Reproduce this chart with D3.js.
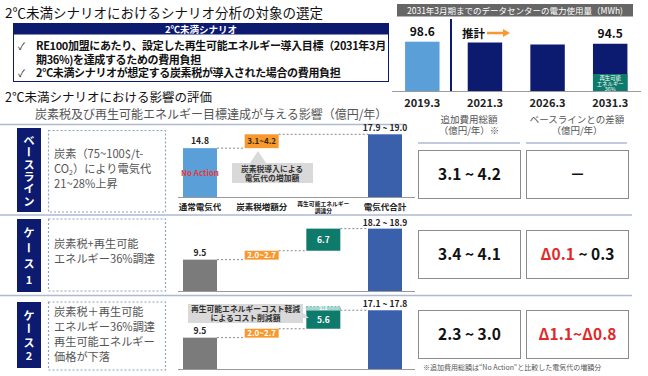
<!DOCTYPE html>
<meta charset="utf-8">
<script src="https://d3js.org/d3.v7.min.js"></script>
<style>
  body { margin: 0; background: #fff; }
  text { font-family: "Noto Sans CJK JP", "Noto Sans", sans-serif; }
</style>
<div id="chart"></div>
<script>
// --- data ---
var usageYears = ["2019.3", "2021.3", "2026.3", "2031.3"];
var usageValues = [98.6, 97.0, 93.0, 94.5];
var usageShown = [true, false, false, true];
var renewShare = 36;

var steps = ["通常電気代", "炭素税増額分", "再生可能エネルギー調達分", "電気代合計"];
var rowNames = ["ベースライン", "ケース1", "ケース2"];
var baseCost = [14.8, 9.5, 9.5];
var carbonLow = [3.1, 2.0, 2.0];
var carbonHigh = [4.2, 2.7, 2.7];
var renewCost = [null, 6.7, 5.6];
var renewCut = [null, null, 1.1];
var totalLow = [17.9, 18.2, 17.1];
var totalHigh = [19.0, 18.9, 17.8];
var addTotal = ["3.1 ~ 4.2", "3.4 ~ 4.1", "2.3 ~ 3.0"];
var diffBase = [null, ["Δ0.1", " ~ 0.3"], ["Δ1.1~Δ0.8", ""]];
var rowNotes = [
  [["炭素（75~100$/t-"], ["CO", "2", "）により電気代"], ["21~28%上昇"]],
  [["炭素税+再生可能"], ["エネルギー36%調達"]],
  [["炭素税＋再生可能"], ["エネルギー36%調達"], ["再生可能エネルギー"], ["価格が下落"]]
];

var W = 648, H = 376;
var navy = "#0c1a70", lightBlue = "#5b9fd8", orange = "#f7992f",
    teal = "#0e7a6b", totalBlue = "#3b60ab", grey = "#7b7b7b", rule = "#aeb9d2";
var f1 = d3.format(".1f");

var svg = d3.select("#chart").append("svg").attr("width", W).attr("height", H);

// --- top left: selection box ---
svg.append("text").attr("x", 5).attr("y", 18).attr("font-size", 13.5).attr("fill", "#111")
  .text("2℃未満シナリオにおけるシナリオ分析の対象の選定");
svg.append("rect").attr("x", 13.5).attr("y", 23.5).attr("width", 375).attr("height", 58)
  .attr("fill", "#fff").attr("stroke", navy);
svg.append("rect").attr("x", 13.5).attr("y", 23.5).attr("width", 375).attr("height", 11).attr("fill", navy);
svg.append("text").attr("x", 201).attr("y", 32.5).attr("text-anchor", "middle").attr("font-size", 9.5)
  .attr("font-weight", 700).attr("fill", "#fff").text("2℃未満シナリオ");
var bullets = [
  ["✓", "RE100加盟にあたり、設定した再生可能エネルギー導入目標（2031年3月"],
  ["", "期36%)を達成するための費用負担"],
  ["✓", "2℃未満シナリオが想定する炭素税が導入された場合の費用負担"]
];
bullets.forEach(function(b, i) {
  var yy = 50 + i * 13.5;
  svg.append("text").attr("x", 18).attr("y", yy).attr("font-size", 10).attr("fill", "#111").text(b[0]);
  svg.append("text").attr("x", 36).attr("y", yy).attr("font-size", 11).attr("font-weight", 700)
    .attr("fill", "#111").attr("letter-spacing", -0.35).text(b[1]);
});

// --- top right: power usage bars ---
var ux = d3.scaleBand().domain(usageYears).range([391, 641.5]).paddingInner(0.45).paddingOuter(0.225);
var uy = d3.scaleLinear().domain([0, 100]).range([91, 41]);

svg.append("rect").attr("x", 397).attr("y", 4).attr("width", 236).attr("height", 12.5).attr("fill", "#666");
svg.append("text").attr("x", 515).attr("y", 13.5).attr("text-anchor", "middle").attr("font-size", 8.5)
  .attr("fill", "#fff").text("2031年3月期までのデータセンターの電力使用量（MWh)");

svg.append("g").selectAll("rect").data(usageValues).join("rect")
  .attr("x", function(d, i) { return ux(usageYears[i]); })
  .attr("y", function(d) { return uy(d); })
  .attr("width", ux.bandwidth())
  .attr("height", function(d) { return uy(0) - uy(d); })
  .attr("fill", function(d, i) { return i === 0 ? lightBlue : navy; });

var last = usageYears.length - 1;
var greenTop = uy(usageValues[last] * renewShare / 100);
svg.append("rect").attr("x", ux(usageYears[last])).attr("y", greenTop)
  .attr("width", ux.bandwidth()).attr("height", uy(0) - greenTop).attr("fill", teal);
["再生可能", "エネルギー", renewShare + "%"].forEach(function(t, i) {
  svg.append("text").attr("x", ux(usageYears[last]) + ux.bandwidth() / 2).attr("y", greenTop + 6 + i * 5.7)
    .attr("text-anchor", "middle").attr("font-size", 5.4).attr("fill", "#fff").text(t);
});

svg.append("line").attr("x1", 392).attr("x2", 641).attr("y1", uy(0) + 0.5).attr("y2", uy(0) + 0.5)
  .attr("stroke", "#9a9a9a");

svg.append("g").selectAll("text").data(usageValues.filter(function(d, i) { return usageShown[i]; })).join("text")
  .attr("x", function(d) { return ux(usageYears[usageValues.indexOf(d)]) + ux.bandwidth() / 2; })
  .attr("y", function(d) { return uy(d) - 6; })
  .attr("text-anchor", "middle").attr("font-size", 12).attr("font-weight", 700).attr("fill", "#111")
  .text(function(d) { return d; });

svg.append("g").selectAll("text").data(usageYears).join("text")
  .attr("x", function(d) { return ux(d) + ux.bandwidth() / 2; })
  .attr("y", 107).attr("text-anchor", "middle").attr("font-size", 11).attr("font-weight", 700)
  .attr("fill", "#222").text(function(d) { return d; });

// forecast divider + arrow
svg.append("line").attr("x1", 451).attr("x2", 451).attr("y1", 19).attr("y2", 91)
  .attr("stroke", navy).attr("stroke-width", 2);
svg.append("text").attr("x", 462).attr("y", 38).attr("font-size", 11.5).attr("font-weight", 700)
  .attr("fill", "#111").text("推計");
svg.append("line").attr("x1", 487).attr("x2", 504).attr("y1", 33).attr("y2", 33)
  .attr("stroke", orange).attr("stroke-width", 2.5);
svg.append("path").attr("d", "M503,29 L510,33 L503,37 Z").attr("fill", orange);

// --- evaluation section ---
svg.append("text").attr("x", 5).attr("y", 102).attr("font-size", 12.5).attr("fill", "#111")
  .text("2℃未満シナリオにおける影響の評価");
svg.append("text").attr("x", 35).attr("y", 119).attr("font-size", 12).attr("fill", "#555")
  .text("炭素税及び再生可能エネルギー目標達成が与える影響（億円/年）");
svg.append("line").attr("x1", 0).attr("x2", 405).attr("y1", 124.5).attr("y2", 124.5)
  .attr("stroke", rule).attr("stroke-width", 1.5);

var colHeads = [[469, "追加費用総額", "（億円/年）※"], [577, "ベースラインとの差額", "（億円/年）"]];
colHeads.forEach(function(c, i) {
  svg.append("text").attr("x", c[0]).attr("y", 123).attr("text-anchor", "middle").attr("font-size", 9.5)
    .attr("fill", "#555").text(c[1]);
  svg.append("text").attr("x", c[0]).attr("y", 134).attr("text-anchor", "middle").attr("font-size", 9.5)
    .attr("fill", "#555").text(c[2]);
  svg.append("line").attr("x1", i === 0 ? 418 : 526).attr("x2", i === 0 ? 520 : 627)
    .attr("y1", 143).attr("y2", 143).attr("stroke", rule).attr("stroke-width", 1.5);
});

// row separators
[215, 295.5].forEach(function(yy) {
  svg.append("line").attr("x1", 0).attr("x2", 632).attr("y1", yy).attr("y2", yy)
    .attr("stroke", rule).attr("stroke-width", 1.5);
});

var rows = [
  { tagTop: 128, tagBot: 212, step: 12.2, boxTop: 130.5, boxBot: 212, axis: 197, textY: [158, 173, 188], cell: 150 },
  { tagTop: 219, tagBot: 292, step: 15.7, boxTop: 219, boxBot: 291, axis: 291, textY: [248, 263], cell: 230 },
  { tagTop: 302, tagBot: 368, step: 13.5, boxTop: 302, boxBot: 370, axis: 369, textY: [316, 331, 346, 361], cell: 310 }
];

var wx = d3.scalePoint().domain(steps).range([200, 385]);
var bw = 34;

rows.forEach(function(r, i) {
  // navy tag with vertical text
  svg.append("rect").attr("x", 17).attr("y", r.tagTop).attr("width", 24).attr("height", r.tagBot - r.tagTop)
    .attr("fill", navy);
  var chars = Array.from(rowNames[i]);
  var mid = (r.tagTop + r.tagBot) / 2;
  chars.forEach(function(ch, k) {
    var cy = mid + (k - (chars.length - 1) / 2) * r.step;
    svg.append("text").attr("x", 29).attr("y", cy).attr("text-anchor", "middle")
      .attr("dominant-baseline", "central").attr("font-size", 11).attr("font-weight", 700).attr("fill", "#fff")
      .attr("transform", ch === "ー" ? "rotate(90," + 29 + "," + cy + ")" : null)
      .text(ch);
  });

  // dashed note box
  svg.append("rect").attr("x", 48.5).attr("y", r.boxTop).attr("width", 117).attr("height", r.boxBot - r.boxTop)
    .attr("fill", "none").attr("stroke", "#8fa4bd").attr("stroke-width", 1.2).attr("stroke-dasharray", "2,2");
  rowNotes[i].forEach(function(parts, k) {
    var t = svg.append("text").attr("x", 54).attr("y", r.textY[k]).attr("font-size", 11.2).attr("fill", "#555");
    if (parts.length === 1) t.text(parts[0]);
    else {
      t.append("tspan").text(parts[0]);
      t.append("tspan").attr("font-size", 7).attr("dy", 2).text(parts[1]);
      t.append("tspan").attr("dy", -2).text(parts[2]);
    }
  });

  // waterfall
  var y = d3.scaleLinear().domain([0, 20]).range([r.axis, r.axis - 66]);
  var g = svg.append("g");
  var cx = function(k) { return wx(steps[k]); };

  g.append("line").attr("x1", 178).attr("x2", 415).attr("y1", r.axis + 0.5).attr("y2", r.axis + 0.5)
    .attr("stroke", "#999").attr("stroke-width", 1.2);

  function conn(x1, x2, v) {
    g.append("line").attr("x1", x1).attr("x2", x2).attr("y1", y(v)).attr("y2", y(v))
      .attr("stroke", "#8a8a8a").attr("stroke-dasharray", "2,2");
  }
  function bar(k, v0, v1, fill) {
    return g.append("rect").attr("x", cx(k) - bw / 2).attr("y", y(v1)).attr("width", bw)
      .attr("height", y(v0) - y(v1)).attr("fill", fill);
  }
  function label(xx, yy, txt, size, col, weight) {
    return g.append("text").attr("x", xx).attr("y", yy).attr("text-anchor", "middle").attr("font-size", size)
      .attr("font-weight", weight || 700).attr("fill", col).text(txt);
  }

  var b = baseCost[i], cTop = b + carbonHigh[i];
  bar(0, 0, b, i === 0 ? lightBlue : grey);
  label(cx(0), y(b) - 4, f1(b), 8.5, "#222");
  if (i === 0) label(cx(0), y(b / 2) + 3, "No Action", 8, "#e23b3b");

  bar(1, b, cTop, orange);
  label(cx(1), (y(b) + y(cTop)) / 2 + 3, f1(carbonLow[i]) + "~" + f1(carbonHigh[i]), 8, i === 0 ? "#3a2a10" : "#fff");
  conn(cx(0) + bw / 2, cx(1) - bw / 2, b);

  if (renewCost[i] != null) {
    var rTop = cTop + renewCost[i];
    bar(2, cTop, rTop, teal);
    label(cx(2), (y(cTop) + y(rTop)) / 2 + 3, f1(renewCost[i]), 8.5, "#fff");
    conn(cx(1) + bw / 2, cx(2) - bw / 2, cTop);
    if (renewCut[i] != null) {
      bar(2, rTop, rTop + renewCut[i], "#a8d8d0").attr("stroke", "#6fb5aa").attr("stroke-dasharray", "2,1.5");
      label(cx(2), y(rTop + renewCut[i] / 2) + 2, f1(renewCut[i]), 5.5, "#fff");
    }
    conn(cx(2) + bw / 2, cx(3) - bw / 2, rTop);
  } else {
    conn(cx(1) + bw / 2, cx(3) - bw / 2, cTop);
  }

  bar(3, 0, totalHigh[i], totalBlue);
  label(cx(3), y(totalHigh[i]) - 3, f1(totalLow[i]) + " ~ " + f1(totalHigh[i]), 8.5, "#222");

  // category labels under first row only
  if (i === 0) {
    steps.forEach(function(s, k) {
      if (k === 2) {
        label(cx(k), r.axis + 8.5, "再生可能エネルギー", 5.8, "#222");
        label(cx(k), r.axis + 15.5, "調達分", 5.8, "#222");
      } else {
        label(cx(k), r.axis + 13, s, 8.5, "#222");
      }
    });
    // callout: carbon tax
    g.append("path").attr("d", "M232,163 H250 L258,151 L266,163 H313 V183 H232 Z").attr("fill", "#d9d9d9");
    label(272, 171.5, "炭素税導入による", 7.8, "#333");
    label(272, 180.5, "電気代の増加額", 7.8, "#333");
  }
  if (i === 2) {
    g.append("path").attr("d", "M188,304 H303 V313 L309,318 L303,318 V323 H188 Z").attr("fill", "#d9d9d9");
    label(245.5, 312, "再生可能エネルギーコスト軽減", 7.8, "#333");
    label(245.5, 321, "によるコスト削減額", 7.8, "#333");
  }

  // result cells
  var ch = 48;
  [418.5, 526.5].forEach(function(x0) {
    svg.append("rect").attr("x", x0).attr("y", r.cell + 0.5).attr("width", 102).attr("height", ch)
      .attr("fill", "#fff").attr("stroke", "#8c8c8c");
  });
  svg.append("text").attr("x", 469.5).attr("y", r.cell + ch / 2 + 6).attr("text-anchor", "middle")
    .attr("font-size", 15.5).attr("font-weight", 700).attr("fill", "#111").text(addTotal[i]);
  var dt = svg.append("text").attr("x", 577.5).attr("y", r.cell + ch / 2 + 6).attr("text-anchor", "middle")
    .attr("font-size", 15.5).attr("font-weight", 700).attr("fill", "#111");
  if (diffBase[i] == null) dt.text("－");
  else {
    dt.append("tspan").attr("fill", "#e02a2a").text(diffBase[i][0]);
    dt.append("tspan").text(diffBase[i][1]);
  }
});

svg.append("text").attr("x", 423).attr("y", 370).attr("font-size", 7).attr("fill", "#555")
  .text("※追加費用総額は“No Action”と比較した電気代の増額分");
</script>
